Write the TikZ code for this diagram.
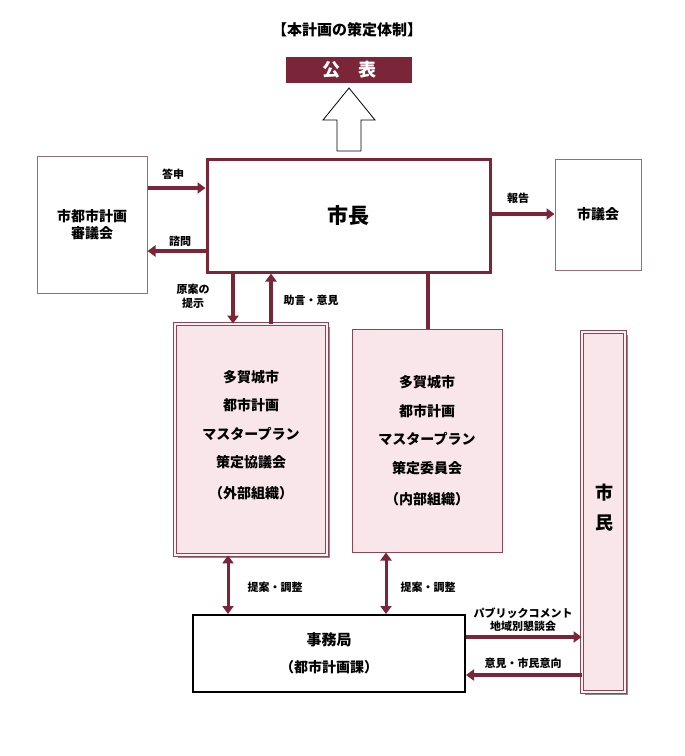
\documentclass[tikz,border=0pt]{standalone}
\usepackage{fontspec}
\setmainfont{Noto Sans CJK JP}
\usetikzlibrary{arrows.meta,shadows}
\definecolor{maroon}{HTML}{7A2638}
\definecolor{pinkfill}{HTML}{F8E6EA}
\definecolor{thinborder}{HTML}{9C6A77}
\definecolor{dblborder}{HTML}{8A4556}
\begin{document}
\begin{tikzpicture}[x=1pt,y=-1pt,
  box/.style={draw=thinborder,line width=1pt,fill=white,inner sep=0pt},
  pinkbox/.style={draw=dblborder,fill=pinkfill,inner sep=0pt},
  dblbox/.style={draw=dblborder,double=white!50!pinkfill,double distance=2pt,line width=0.8pt,fill=pinkfill,inner sep=0pt,
     drop shadow={shadow xshift=2.5pt,shadow yshift=-2.5pt,fill=black!45,opacity=1}},
  arr/.style={draw=maroon,line width=4pt,-{Triangle[length=8pt,width=11pt]}},
  darr/.style={draw=maroon,line width=3pt,{Triangle[length=8pt,width=11pt]}-{Triangle[length=8pt,width=11pt]}},
  lbl/.style={font=\fontsize{11}{13.5}\selectfont\bfseries,align=center,inner sep=0pt},
  txt/.style={font=\fontsize{14}{17}\selectfont\bfseries,align=center,inner sep=0pt}
]
\useasboundingbox[fill=white] (0,0) rectangle (685,756);

\node[font=\fontsize{15}{18}\selectfont\bfseries,inner sep=0pt] (title) at (347,30) {【本計画の策定体制】};
\node[fill=maroon,minimum width=126pt,minimum height=26pt,inner sep=0pt,text=white,font=\fontsize{18}{20}\selectfont\bfseries] (koho) at (349,70) {公　表};

\draw[black,line width=0.8pt,fill=white] (337,151) -- (337,120) -- (323,120) -- (349,88) -- (375,120) -- (361,120) -- (361,151) -- cycle;

\node[draw=maroon,line width=3pt,fill=white,minimum width=283pt,minimum height=113pt,inner sep=0pt,font=\fontsize{21}{24}\selectfont\bfseries] (shicho) at (348.5,215.5) {市長};

\node[box,minimum width=110pt,minimum height=137pt,txt] (shingikai) at (92,224.5) {市都市計画\\審議会};
\node[box,minimum width=86pt,minimum height=111pt,txt] (shigikai) at (598,214.5) {市議会};

\node[dblbox,minimum width=152pt,minimum height=231pt] (kyogikai) at (251,439.5) {};
\node[txt,font=\fontsize{14}{28.5}\selectfont\bfseries] (kyotext) at (251,435) {多賀城市\\都市計画\\マスタープラン\\策定協議会\\[2.5pt]（外部組織）};

\node[pinkbox,line width=1pt,minimum width=150pt,minimum height=223pt,txt,font=\fontsize{14}{28.5}\selectfont\bfseries] (iinkai) at (427,440.5) {多賀城市\\都市計画\\マスタープラン\\策定委員会\\[2.5pt]（内部組織）};

\node[dblbox,minimum width=43pt,minimum height=360pt] (shimin) at (603.5,512) {};
\node[inner sep=0pt,align=center,font=\fontsize{18}{30}\selectfont\bfseries] (shimintext) at (604,508) {市\\民};

\node[draw=black,line width=2pt,fill=white,minimum width=272pt,minimum height=77pt,inner sep=0pt,align=center,font=\fontsize{15}{27}\selectfont\bfseries] (jimu) at (329,653.5) {事務局\\{\fontsize{14}{27}\selectfont（都市計画課）}};

% arrows
\draw[arr] (shingikai.east |- 0,188) -- (shicho.west |- 0,188);
\node[lbl] (l1) at (173,174) {答申};
\draw[arr] (shicho.west |- 0,251) -- (shingikai.east |- 0,251);
\node[lbl] (l2) at (180,241) {諮問};
\draw[arr] (shicho.east |- 0,214) -- (shigikai.west |- 0,214);
\node[lbl] (l3) at (518,198) {報告};

\draw[arr] (shicho.south -| 233,0) -- (kyogikai.north -| 233,0);
\node[lbl] (l4) at (193,296.5) {原案の\\提示};
\draw[arr] (kyogikai.north -| 271,0) -- (shicho.south -| 271,0);
\node[lbl] (l5) at (311,300) {助言・意見};
\draw[draw=maroon,line width=3.5pt] (shicho.south -| 428,0) -- (iinkai.north -| 428,0);

\draw[darr] (kyogikai.south -| 228,0) -- (jimu.north -| 228,0);
\node[lbl] (l6) at (275,587) {提案・調整};
\draw[darr] (iinkai.south -| 386,0) -- (jimu.north -| 386,0);
\node[lbl] (l7) at (428,587) {提案・調整};

\draw[arr] (jimu.east |- 0,637) -- (shimin.west |- 0,637);
\node[lbl] (l8) at (523,619.5) {パブリックコメント\\地域別懇談会};
\draw[arr] (shimin.west |- 0,675) -- (jimu.east |- 0,675);
\node[lbl] (l9) at (523,663) {意見・市民意向};
\end{tikzpicture}
\end{document}
